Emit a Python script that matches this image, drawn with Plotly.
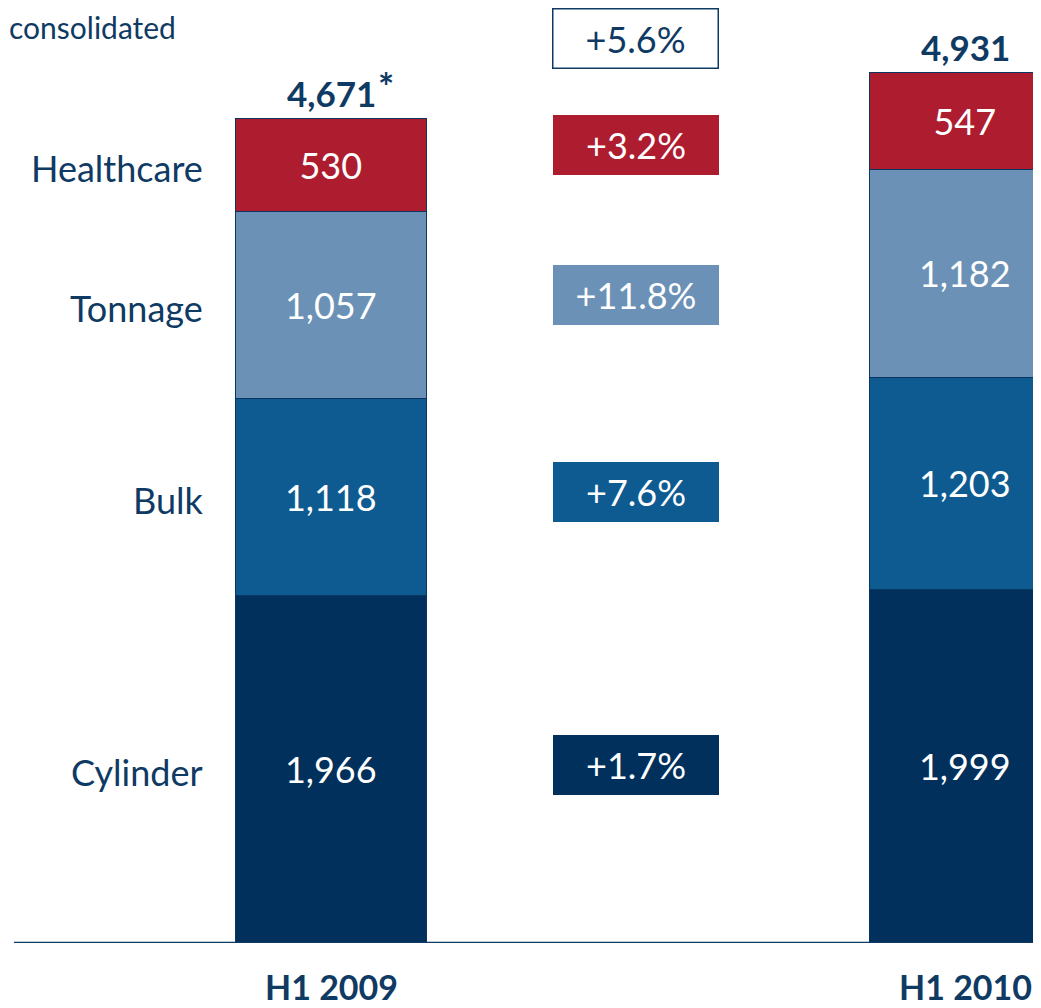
import plotly.graph_objects as go

# ---- data ----
periods = ["H1 2009", "H1 2010"]
segments = ["Cylinder", "Bulk", "Tonnage", "Healthcare"]
cylinder = [1966, 1999]
bulk = [1118, 1203]
tonnage = [1057, 1182]
healthcare = [530, 547]
totals = [4671, 4931]
growth_segments = ["+1.7%", "+7.6%", "+11.8%", "+3.2%"]
growth_total = "+5.6%"

colors = {"Cylinder": "#00305B", "Bulk": "#0E5B91", "Tonnage": "#6B91B6", "Healthcare": "#AE1C2F"}
NAVY = "#0F3A63"
FONT = "Lato"

series = {"Cylinder": cylinder, "Bulk": bulk, "Tonnage": tonnage, "Healthcare": healthcare}
xpos = [0, 1]

# page offset (browser body margin) compensation
OFF = 8
FIG_W = 1041 - 2 * OFF
FIG_H = 1008 - OFF
PLOT_H = 935  # plot area height in px (page y 8..943)


def paper_y(page_px):
    return (943 - page_px) / PLOT_H


fig = go.Figure()
for name in segments:
    fig.add_trace(go.Bar(
        x=xpos, y=series[name], name=name, width=0.301,
        marker=dict(color=colors[name], line=dict(color="#0A3560", width=1.5)),
        texttemplate="%{y:,}", textposition="inside", insidetextanchor="middle",
        textangle=0, textfont=dict(family=FONT, size=36, color="white"),
        constraintext="none", cliponaxis=True, showlegend=False, hoverinfo="skip",
    ))

# totals above bars
for i, t in enumerate(totals):
    fig.add_annotation(x=xpos[i], y=t, text=f"<b>{t:,}</b>", showarrow=False,
                       xanchor="center", yanchor="bottom", yshift=3,
                       font=dict(family=FONT, size=35, color=NAVY))
fig.add_annotation(x=xpos[0], y=totals[0], text="<b>*</b>", showarrow=False,
                   xanchor="left", yanchor="bottom", xshift=44, yshift=8,
                   font=dict(family=FONT, size=38, color=NAVY))

# left segment labels (centred on the first bar's segments)
cum = 0
for name in segments:
    v = series[name][0]
    fig.add_annotation(x=-0.1995, y=cum + v / 2, text=name, showarrow=False,
                       xanchor="right", yanchor="middle", yshift=-2,
                       font=dict(family=FONT, size=36, color=NAVY))
    cum += v

# growth boxes (page y positions of box centres)
box_y_px = [765, 492, 295, 145]
for name, g, py in zip(segments, growth_segments, box_y_px):
    fig.add_annotation(x=0.48, y=paper_y(py), yref="paper", text=g, showarrow=False,
                       xanchor="center", yanchor="middle", width=166, height=60,
                       borderpad=0, bgcolor=colors[name], bordercolor=colors[name], borderwidth=0,
                       font=dict(family=FONT, size=36, color="white"))
fig.add_annotation(x=0.48, y=paper_y(38), yref="paper", text=growth_total, showarrow=False,
                   xanchor="center", yanchor="middle", width=164, height=58,
                   borderpad=0, bgcolor="white", bordercolor=NAVY, borderwidth=1.5,
                   font=dict(family=FONT, size=36, color=NAVY))

# top-left header text
fig.add_annotation(x=0, y=1, xref="paper", yref="paper", text="consolidated", showarrow=False,
                   xanchor="left", yanchor="top", xshift=0, yshift=0, borderpad=0,
                   font=dict(family=FONT, size=30, color=NAVY))

# baseline
fig.add_shape(type="line", x0=-0.5008, x1=1.2, y0=0, y1=0, xref="x", yref="y",
              line=dict(color=NAVY, width=2.5), layer="above")

fig.update_layout(
    width=FIG_W, height=FIG_H, autosize=False,
    margin=dict(l=0, r=0, t=0, b=FIG_H - PLOT_H),
    barmode="stack", bargap=0,
    paper_bgcolor="white", plot_bgcolor="white",
    xaxis=dict(range=[(OFF - 331.5) / 634, (OFF + FIG_W - 331.5) / 634], tickvals=xpos,
               ticktext=[f"<b>{p}</b>" for p in periods], automargin=False,
               showgrid=False, zeroline=False, showline=False, ticks="",
               tickfont=dict(family=FONT, size=34, color=NAVY), ticklabelstandoff=22),
    yaxis=dict(range=[0, (943 - OFF) / 0.17642], visible=False, showgrid=False, zeroline=False),
)

fig.write_html("out.html")
